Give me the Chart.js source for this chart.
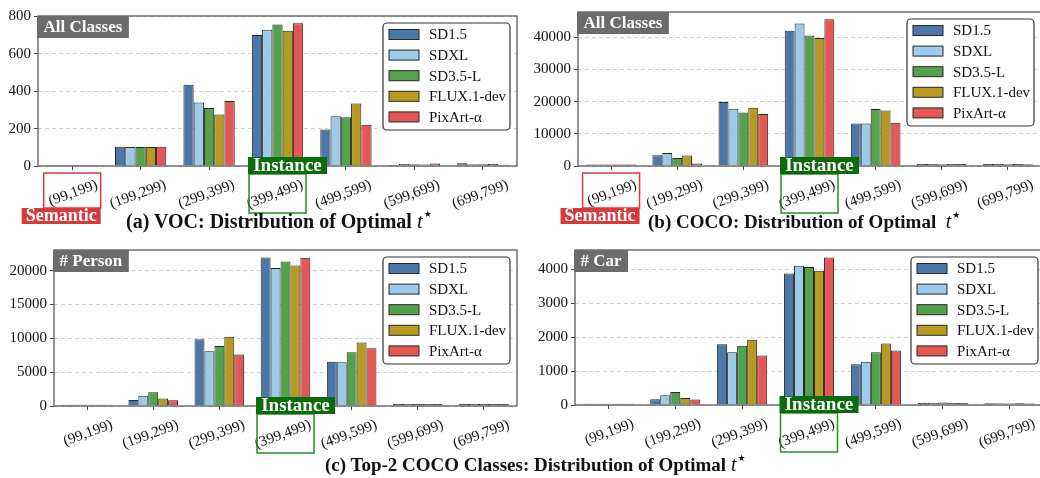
<!DOCTYPE html>
<html>
<head>
<meta charset="utf-8">
<script src="https://cdn.jsdelivr.net/npm/chart.js@4.4.1/dist/chart.umd.min.js"></script>
<style>
  html, body { margin: 0; padding: 0; background: #fff; }
  #fig { position: relative; width: 1040px; height: 478px; overflow: hidden; background: #fff; }
  #fig canvas { position: absolute; }
  .cap { position: absolute; font-family: "Liberation Serif", serif; font-weight: bold; color: #111; white-space: nowrap; line-height: 1; }
  .cap i { font-weight: normal; font-size: 1.05em; }
  .cap sup { font-weight: normal; font-size: 9px; position: relative; top: -3px; margin-left: 1px; font-family: "DejaVu Sans", sans-serif; }
</style>
</head>
<body>
<div id="fig">
  <canvas id="voc"></canvas>
  <canvas id="coco"></canvas>
  <canvas id="person"></canvas>
  <canvas id="car"></canvas>
  <div class="cap" style="left:126px; top:211px; font-size:20px;">(a) VOC: Distribution of Optimal <i>t</i><sup>★</sup></div>
  <div class="cap" style="left:648px; top:212px; font-size:19px;">(b) COCO: Distribution of Optimal&nbsp; <i>t</i><sup>★</sup></div>
  <div class="cap" style="left:325px; top:455px; font-size:19px;">(c) Top-2 COCO Classes: Distribution of Optimal <i>t</i><sup>★</sup></div>
</div>
<script>
// Timestep bins of the optimal t*
const CATEGORIES = ['(99,199)', '(199,299)', '(299,399)', '(399,499)', '(499,599)', '(599,699)', '(699,799)'];
const MODELS = ['SD1.5', 'SDXL', 'SD3.5-L', 'FLUX.1-dev', 'PixArt-α'];
const COLORS = ['#4C78A8', '#9ECAE9', '#54A24B', '#B79A20', '#E45756'];

// y-axis tick values of each panel
const VOC_TICKS = [0, 200, 400, 600, 800];
const COCO_TICKS = [0, 10000, 20000, 30000, 40000];
const PERSON_TICKS = [0, 5000, 10000, 15000, 20000];
const CAR_TICKS = [0, 1000, 2000, 3000, 4000];

// (a) VOC, all classes
const VOC_SD15   = [5, 103, 434, 701, 195, 6, 15];
const VOC_SDXL   = [5, 102, 339, 728, 266, 11, 10];
const VOC_SD35   = [5, 102, 310, 757, 261, 10, 10];
const VOC_FLUX   = [5, 102, 276, 723, 334, 8, 12];
const VOC_PIXART = [5, 103, 347, 764, 220, 13, 7];

// (b) COCO, all classes
const COCO_SD15   = [500, 3300, 19900, 42000, 13200, 600, 600];
const COCO_SDXL   = [500, 4050, 17800, 44250, 13200, 600, 600];
const COCO_SD35   = [450, 2500, 16650, 40500, 17700, 550, 550];
const COCO_FLUX   = [450, 3250, 18100, 39750, 17200, 600, 600];
const COCO_PIXART = [450, 800, 16150, 45550, 13400, 600, 550];

// (c) COCO class "person"
const PERSON_SD15   = [200, 900, 9850, 21950, 6550, 300, 300];
const PERSON_SDXL   = [200, 1500, 8100, 20400, 6450, 300, 300];
const PERSON_SD35   = [200, 2030, 8850, 21350, 7950, 300, 300];
const PERSON_FLUX   = [200, 1120, 10230, 20740, 9380, 300, 300];
const PERSON_PIXART = [200, 850, 7600, 21920, 8530, 300, 300];

// (c) COCO class "car"
const CAR_SD15   = [40, 170, 1790, 3870, 1200, 60, 55];
const CAR_SDXL   = [40, 290, 1550, 4095, 1275, 60, 55];
const CAR_SD35   = [40, 385, 1745, 4065, 1550, 70, 45];
const CAR_FLUX   = [40, 205, 1920, 3955, 1810, 60, 50];
const CAR_PIXART = [40, 160, 1455, 4345, 1605, 60, 45];

const SERIF = '"Liberation Serif", "Times New Roman", serif';
Chart.defaults.font.family = SERIF;
Chart.defaults.color = '#111';

// Frame, corner tag, inline legend and the Semantic / Instance call-outs
const panelDecor = {
  id: 'panelDecor',
  afterDatasetsDraw(chart, args, o) {
    const ctx = chart.ctx;
    const ca = chart.chartArea;
    const xs = chart.scales.x;
    ctx.save();

    // frame
    ctx.strokeStyle = '#5a5a5a';
    ctx.lineWidth = 1.3;
    ctx.strokeRect(ca.left, ca.top, ca.right - ca.left, ca.bottom - ca.top);

    // corner tag
    ctx.font = 'bold 17px ' + SERIF;
    const tw = ctx.measureText(o.tag).width;
    ctx.fillStyle = '#6b6b6b';
    ctx.fillRect(ca.left - 1, ca.top, tw + 13, 22);
    ctx.fillStyle = '#fff';
    ctx.textBaseline = 'middle';
    ctx.textAlign = 'left';
    ctx.fillText(o.tag, ca.left + 5.5, ca.top + 12);

    // legend
    const lw = 127, lh = 107;
    const lx = ca.right - o.legendInset - lw, ly = ca.top + 7;
    ctx.beginPath();
    ctx.roundRect(lx, ly, lw, lh, 4);
    ctx.fillStyle = 'rgba(255,255,255,0.92)';
    ctx.fill();
    ctx.strokeStyle = '#333';
    ctx.lineWidth = 1.2;
    ctx.stroke();
    ctx.font = '15px ' + SERIF;
    chart.data.datasets.forEach((ds, i) => {
      const cy = ly + 11.5 + i * 20.6;
      ctx.fillStyle = ds.backgroundColor;
      ctx.fillRect(lx + 6, cy - 5, 30, 10);
      ctx.strokeStyle = '#262626';
      ctx.lineWidth = 1;
      ctx.strokeRect(lx + 6, cy - 5, 30, 10);
      ctx.fillStyle = '#111';
      ctx.fillText(ds.label, lx + 46, cy + 1);
    });

    // Semantic call-out around the first bin
    if (o.semantic) {
      const cx = xs.getPixelForValue(0);
      ctx.strokeStyle = '#e0393b';
      ctx.lineWidth = 1.5;
      ctx.strokeRect(cx - 28.5, ca.bottom + 7, 57, 35);
      ctx.fillStyle = '#d73a3b';
      ctx.fillRect(cx + 28.5 - 79, ca.bottom + 42, 79, 16);
      ctx.fillStyle = '#fff';
      ctx.font = 'bold 18px ' + SERIF;
      ctx.textAlign = 'center';
      ctx.fillText('Semantic', cx + 28.5 - 39.5, ca.bottom + 50.5);
    }

    // Instance call-out around the (399,499) bin
    if (o.instance) {
      const cx = xs.getPixelForValue(3);
      ctx.strokeStyle = '#2e8b2e';
      ctx.lineWidth = 1.5;
      ctx.strokeRect(cx - 28.5, ca.bottom + 8, 57, 39);
      ctx.fillStyle = '#0b6b0b';
      ctx.fillRect(cx - 29.5, ca.bottom - 9, 79, 17);
      ctx.fillStyle = '#fff';
      ctx.font = 'bold 19px ' + SERIF;
      ctx.textAlign = 'center';
      ctx.fillText('Instance', cx - 29.5 + 39.5, ca.bottom + 0.5);
    }
    ctx.restore();
  }
};
Chart.register(panelDecor);

function panel(id, area, yw, series, yTicks, deco) {
  const padTop = 4, padR = 12, xh = 64;
  const cv = document.getElementById(id);
  const w = (area.R - area.L) + yw + padR;
  const h = (area.B - area.T) + padTop + xh;
  cv.width = w; cv.height = h;
  cv.style.width = w + 'px'; cv.style.height = h + 'px';
  cv.style.left = (area.L - yw) + 'px';
  cv.style.top = (area.T - padTop) + 'px';
  // 5% headroom above the tallest bar
  const ymax = 1.05 * Math.max(...series.flat());

  return new Chart(cv, {
    type: 'bar',
    data: {
      labels: CATEGORIES,
      datasets: MODELS.map((m, i) => ({
        label: m,
        data: series[i],
        backgroundColor: COLORS[i],
        borderColor: '#262626',
        borderWidth: 1,
        borderSkipped: 'start',
        categoryPercentage: 0.75,
        barPercentage: 1
      }))
    },
    options: {
      responsive: false,
      animation: false,
      devicePixelRatio: 1,
      layout: { padding: { top: padTop, right: padR, left: 0, bottom: 0 } },
      plugins: {
        legend: { display: false },
        tooltip: { enabled: false },
        panelDecor: deco
      },
      scales: {
        x: {
          offset: true,
          grid: { offset: false, drawOnChartArea: false, drawTicks: true, tickLength: 4, tickColor: '#444', tickWidth: 1 },
          border: { display: false },
          ticks: { autoSkip: false, minRotation: 20, maxRotation: 20, padding: 6, labelOffset: 25, color: '#111', font: { size: 15 } },
          afterFit: s => { s.height = xh; }
        },
        y: {
          min: 0,
          max: ymax,
          grid: { color: '#d2d2d2', lineWidth: 1, drawTicks: true, tickLength: 4, tickColor: '#444' },
          border: { display: false, dash: [4, 3] },
          afterBuildTicks: s => { s.ticks = yTicks.map(v => ({ value: v })); },
          ticks: { padding: 3, color: '#111', font: { size: 15 }, callback: v => String(v) },
          afterFit: s => { s.width = yw; }
        }
      }
    }
  });
}

panel('voc', { L: 38, T: 8, R: 517, B: 166 }, 38,
  [VOC_SD15, VOC_SDXL, VOC_SD35, VOC_FLUX, VOC_PIXART], VOC_TICKS,
  { tag: 'All Classes', semantic: true, instance: true, legendInset: 7 });

panel('coco', { L: 578, T: 4, R: 1041, B: 166 }, 60,
  [COCO_SD15, COCO_SDXL, COCO_SD35, COCO_FLUX, COCO_PIXART], COCO_TICKS,
  { tag: 'All Classes', semantic: true, instance: true, legendInset: 7 });

panel('person', { L: 54, T: 242, R: 517, B: 406 }, 54,
  [PERSON_SD15, PERSON_SDXL, PERSON_SD35, PERSON_FLUX, PERSON_PIXART], PERSON_TICKS,
  { tag: '# Person', semantic: false, instance: true, legendInset: 7 });

panel('car', { L: 575, T: 242, R: 1043, B: 405 }, 60,
  [CAR_SD15, CAR_SDXL, CAR_SD35, CAR_FLUX, CAR_PIXART], CAR_TICKS,
  { tag: '# Car', semantic: false, instance: true, legendInset: 5 });
</script>
</body>
</html>
